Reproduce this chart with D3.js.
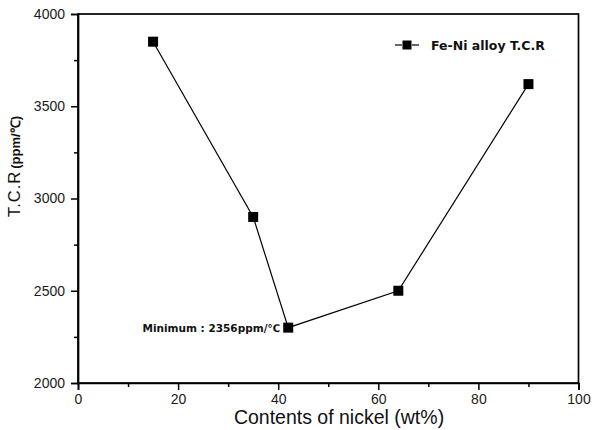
<!DOCTYPE html>
<html><head><meta charset="utf-8">
<script src="https://cdn.jsdelivr.net/npm/d3@7"></script>
<style>body{margin:0;background:#fff}svg{display:block}</style>
</head><body>
<svg id="c" width="592" height="430"></svg>
<script>
const nickel = [15, 35, 42, 64, 90];
const tcr = [3850, 2900, 2300, 2500, 3620];
const xTicks = [0, 20, 40, 60, 80, 100];
const yTicks = [2000, 2500, 3000, 3500, 4000];
const seriesName = "Fe-Ni alloy T.C.R";
const annotation = "Minimum : 2356ppm/\u2103";

const svg = d3.select("#c");
const L = 78, R = 578.5, T = 14, B = 383;
const x = d3.scaleLinear().domain([0, 100]).range([L, R]);
const y = d3.scaleLinear().domain([2000, 4000]).range([B, T]);
const tickFont = "Liberation Sans, Arial, sans-serif";

// frame
svg.append("rect").attr("x", L).attr("y", T).attr("width", R - L).attr("height", B - T)
  .attr("fill", "none").attr("stroke", "#000").attr("stroke-width", 1.7);

// x axis
svg.append("g").attr("transform", `translate(0,${B})`)
  .call(d3.axisBottom(x).tickValues(xTicks).tickSize(7).tickPadding(4).tickFormat(d3.format("d")));
svg.append("g").attr("transform", `translate(0,${B})`)
  .call(d3.axisBottom(x).tickValues(d3.range(10, 100, 20)).tickSize(4).tickFormat(""))
  .select(".domain").remove();
// y axis
svg.append("g").attr("transform", `translate(${L},0)`)
  .call(d3.axisLeft(y).tickValues(yTicks).tickSize(7).tickPadding(6).tickFormat(d3.format("d")));
svg.append("g").attr("transform", `translate(${L},0)`)
  .call(d3.axisLeft(y).tickValues(d3.range(2250, 4000, 500)).tickSize(4).tickFormat(""))
  .select(".domain").remove();
svg.selectAll(".domain").attr("stroke-width", 1.7);
svg.selectAll(".tick line").attr("stroke-width", 1.5);
svg.selectAll(".tick text").attr("font-family", tickFont).attr("font-size", 14).attr("fill", "#1a1a1a");

// axis titles
svg.append("text").attr("x", 339).attr("y", 424).attr("text-anchor", "middle")
  .attr("font-family", tickFont).attr("font-size", 19.5).attr("fill", "#111")
  .text("Contents of nickel (wt%)");
const yt = svg.append("text").attr("transform", `translate(20,166.5) rotate(-90)`)
  .attr("text-anchor", "middle").attr("font-family", tickFont).attr("fill", "#111");
yt.append("tspan").attr("font-size", 16.5).attr("letter-spacing", 1).text("T.C.R");
yt.append("tspan").attr("font-size", 13).attr("font-weight", "bold").attr("dx", 2).text("(ppm/\u2103)");

// line + markers
const pts = nickel.map((d, i) => [d, tcr[i]]);
svg.append("path").datum(pts)
  .attr("d", d3.line().x(d => x(d[0])).y(d => y(d[1])))
  .attr("fill", "none").attr("stroke", "#000").attr("stroke-width", 1.2);
svg.selectAll("rect.m").data(pts).enter().append("rect").attr("class", "m")
  .attr("x", d => x(d[0]) - 5).attr("y", d => y(d[1]) - 5)
  .attr("width", 10).attr("height", 10).attr("fill", "#000");

// annotation
svg.append("text").attr("x", x(nickel[2]) - 8).attr("y", y(tcr[2]) + 4)
  .attr("text-anchor", "end").attr("font-family", "DejaVu Sans, sans-serif")
  .attr("font-size", 10.5).attr("font-weight", "bold").attr("fill", "#111").text(annotation);

// legend
const lg = svg.append("g").attr("transform", "translate(395,45)");
lg.append("line").attr("x1", 0).attr("x2", 24).attr("y1", 0).attr("y2", 0).attr("stroke", "#000").attr("stroke-width", 1.2);
lg.append("rect").attr("x", 7).attr("y", -5).attr("width", 10).attr("height", 10).attr("fill", "#fff");
lg.append("rect").attr("x", 7.5).attr("y", -4.5).attr("width", 9).attr("height", 9).attr("fill", "#000");
lg.append("text").attr("x", 36).attr("y", 5).attr("font-family", "DejaVu Sans, sans-serif")
  .attr("font-size", 12.5).attr("font-weight", "bold").attr("fill", "#111").text(seriesName);
</script>
</body></html>
